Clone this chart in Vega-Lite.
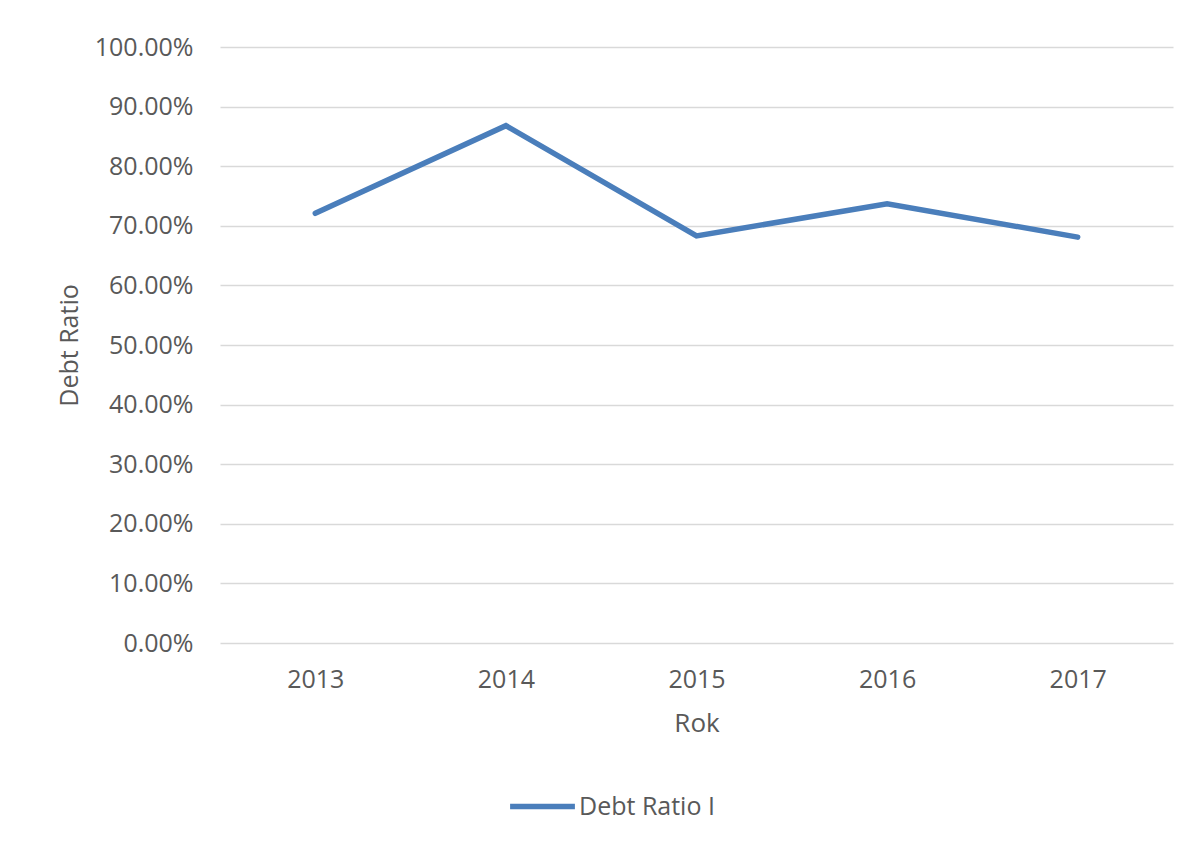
{
  "$schema": "https://vega.github.io/schema/vega-lite/v6.json",
  "autosize": {"type": "none"},
  "padding": {"left": 220, "top": 47, "right": 23, "bottom": 200},
  "width": 953,
  "height": 596,
  "background": "white",
  "config": {
    "view": {"stroke": null},
    "font": "Open Sans",
    "axis": {"labelFont": "Open Sans", "titleFont": "Open Sans", "labelColor": "#595959", "titleColor": "#595959", "titleFontWeight": "normal", "labelOverlap": false}
  },
  "data": {"values": [
    {"Rok": "2013", "value": 0.721, "series": "Debt Ratio I"},
    {"Rok": "2014", "value": 0.868, "series": "Debt Ratio I"},
    {"Rok": "2015", "value": 0.683, "series": "Debt Ratio I"},
    {"Rok": "2016", "value": 0.737, "series": "Debt Ratio I"},
    {"Rok": "2017", "value": 0.681, "series": "Debt Ratio I"}
  ]},
  "mark": {"type": "line", "strokeWidth": 5.5, "strokeCap": "round", "strokeJoin": "miter"},
  "encoding": {
    "x": {
      "field": "Rok", "type": "ordinal",
      "scale": {"paddingInner": 0, "paddingOuter": 0},
      "axis": {"labelAngle": 0, "ticks": false, "domain": false, "labelFontSize": 25, "labelPadding": 24, "titleFontSize": 26, "titlePadding": 18, "grid": false}
    },
    "y": {
      "field": "value", "type": "quantitative",
      "title": "Debt Ratio",
      "scale": {"domain": [0, 1]},
      "axis": {"format": ".2%", "values": [0,0.1,0.2,0.3,0.4,0.5,0.6,0.7,0.8,0.9,1.0], "ticks": false, "domain": false, "labelFontSize": 25, "labelPadding": 27, "titleFontSize": 25, "titlePadding": 12, "gridColor": "#d9d9d9", "gridWidth": 1.5}
    },
    "color": {
      "field": "series", "type": "nominal",
      "scale": {"range": ["#4a7ebb"]},
      "legend": {"title": null, "orient": "none", "legendX": 287, "legendY": 724, "padding": 0, "symbolType": "stroke", "symbolStrokeWidth": 5.5, "symbolSize": 4200, "labelFontSize": 25, "labelColor": "#595959", "labelFont": "Open Sans", "labelOffset": 1}
    }
  }
}
